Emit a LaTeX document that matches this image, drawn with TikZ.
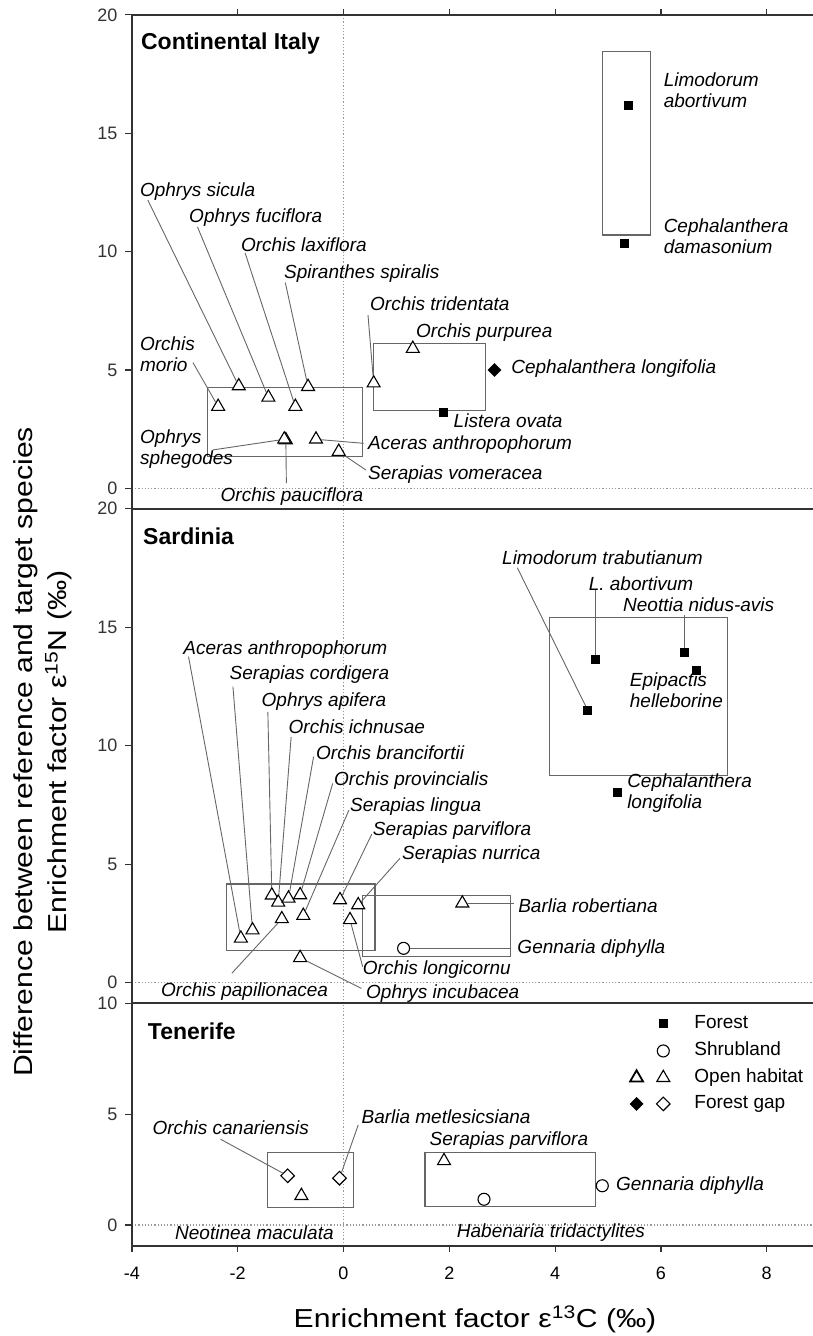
\documentclass[tikz,border=0pt]{standalone}
\usepackage{fontspec}
\setmainfont{Liberation Sans}
\usetikzlibrary{shapes.geometric}

\begin{document}
\begin{tikzpicture}[x=1pt, y=1pt,
    frame/.style={line width=1.8pt, black!80},
    tk/.style={line width=1.2pt, black!80},
    grp/.style={draw=black!60, line width=1.1pt},
    lead/.style={black!60, line width=0.9pt},
    zero/.style={black!40, line width=1.2pt, dotted},
    sp/.style={font=\fontsize{19}{21}\selectfont\itshape, anchor=west, inner sep=0pt, align=left, text height=13.5pt, text depth=4pt},
    ttl/.style={font=\fontsize{23}{25}\selectfont\bfseries, anchor=west, inner sep=0pt},
    tck/.style={font=\fontsize{18}{20}\selectfont, inner sep=0pt},
    axt/.style={font=\fontsize{26}{34}\selectfont, inner sep=0pt, align=center},
    leg/.style={font=\fontsize{19}{21}\selectfont, anchor=west, inner sep=0pt, text height=13.5pt, text depth=4pt},
    fo/.style={rectangle, fill=black, minimum size=9pt, inner sep=0pt},
    sh/.style={circle, draw=black, line width=1.1pt, fill=white, minimum size=12pt, inner sep=0pt},
    op/.style={regular polygon, regular polygon sides=3, draw=black, line width=1.1pt, fill=white, minimum size=15pt, inner sep=0pt},
    gp/.style={diamond, draw=black, line width=1.1pt, fill=white, minimum size=14pt, inner sep=0pt},
    gpf/.style={diamond, fill=black, minimum size=14pt, inner sep=0pt}]
\useasboundingbox (0,0) rectangle (813,1336);

\node[axt, rotate=90] (ylab) at (43,584)
    {\scalebox{1.16}[1]{Difference between reference and target species}\\
     \scalebox{1.16}[1]{Enrichment factor ε\textsuperscript{15}N (‰)}};
\node[axt] (xlab) at (475,17) {\scalebox{1.16}[1]{Enrichment factor ε\textsuperscript{13}C (‰)}};

\begin{scope}[shift={(343.5pt,847.7pt)}, x=52.9pt, y=23.67pt]
    \draw[zero] (-4,0) -- (8.9,0);
    \draw[zero] (0,-0.875) -- (0,20);
    \draw[frame] (-4,-0.875) -- (-4,20) -- (8.9,20);
    \foreach \v in {0,5,...,20}
        \draw[tk] (-4,\v) -- ++(-7pt,0) node[tck, anchor=east, xshift=-7pt] {\v};
    \foreach \u in {-2,0,...,8}
        \draw[tk] (\u,20) -- ++(0,6pt);
    \node[ttl] (ci) at (-3.83,18.80) {Continental Italy};

    \draw[grp] (4.89,10.70) rectangle (5.81,18.47);
    \draw[grp] (-2.57,1.335) rectangle (0.363,4.27);
    \draw[grp] (0.569,3.27) rectangle (2.684,6.10);

    \node[fo] (la) at (5.38,16.18) {};
    \node[fo] (cd) at (5.32,10.35) {};
    \node[gpf] (cl) at (2.854,5.0) {};
    \node[fo] (lo) at (1.885,3.22) {};
    \node[op] (om) at (-2.37,3.45) {};
    \node[op] (os) at (-1.98,4.32) {};
    \node[op] (of) at (-1.42,3.84) {};
    \node[op] (ol) at (-0.91,3.45) {};
    \node[op] (ss) at (-0.67,4.29) {};
    \node[op] (ot) at (0.57,4.44) {};
    \node[op] (pu) at (1.31,5.90) {};
    \node[op] (pa) at (-1.09,2.04) {};
    \node[op] (sg) at (-1.12,2.07) {};
    \node[op] (aa) at (-0.52,2.07) {};
    \node[op] (sv) at (-0.09,1.55) {};

    \node[sp] (tla) at (6.05,16.28) {Limodorum\\abortivum};
    \node[sp] (tcd) at (6.05,10.11) {Cephalanthera\\damasonium};
    \node[sp] (tos) at (-3.85,12.52) {Ophrys sicula};
    \node[sp] (tof) at (-2.92,11.42) {Ophrys fuciflora};
    \node[sp] (tol) at (-1.94,10.19) {Orchis laxiflora};
    \node[sp] (tss) at (-1.125,9.05) {Spiranthes spiralis};
    \node[sp] (tot) at (0.50,7.70) {Orchis tridentata};
    \node[sp] (tpu) at (1.37,6.56) {Orchis purpurea};
    \node[sp] (tom) at (-3.85,5.12) {Orchis\\morio};
    \node[sp] (tcl) at (3.17,5.04) {Cephalanthera longifolia};
    \node[sp] (tlo) at (2.08,2.77) {Listera ovata};
    \node[sp] (tsg) at (-3.85,1.22) {Ophrys\\sphegodes};
    \node[sp] (taa) at (0.463,1.83) {Aceras anthropophorum};
    \node[sp] (tsv) at (0.463,0.56) {Serapias vomeracea};
    \node[sp] (tpa) at (-2.325,-0.37) {Orchis pauciflora};

    \coordinate (c1) at (-2.845,5.31);
    \coordinate (c2) at (-3.70,12.18);
    \coordinate (c3) at (-2.76,11.04);
    \coordinate (c4) at (-1.86,9.94);
    \coordinate (c5) at (-1.10,8.69);
    \coordinate (c6) at (0.463,7.32);
    \coordinate (c7) at (-2.47,1.62);
    \coordinate (c8) at (-1.08,0.22);
    \coordinate (c9) at (0.38,1.90);
    \coordinate (c10) at (0.425,0.77);
    \draw[lead] (c1) -- (om);
    \draw[lead] (c2) -- (os);
    \draw[lead] (c3) -- (of);
    \draw[lead] (c4) -- (ol);
    \draw[lead] (c5) -- (ss);
    \draw[lead] (c6) -- (ot);
    \draw[lead] (c7) -- (sg);
    \draw[lead] (pa) -- (c8);
    \draw[lead] (aa) -- (c9);
    \draw[lead] (sv) -- (c10);
\end{scope}

\begin{scope}[shift={(343.5pt,353.3pt)}, x=52.9pt, y=23.7pt]
    \draw[zero] (-4,0) -- (8.9,0);
    \draw[zero] (0,-0.875) -- (0,20);
    \draw[frame] (-4,-0.875) -- (-4,20) -- (8.9,20);
    \foreach \v in {0,5,...,20}
        \draw[tk] (-4,\v) -- ++(-7pt,0) node[tck, anchor=east, xshift=-7pt] {\v};
    \node[ttl] (sa) at (-3.79,18.82) {Sardinia};

    \draw[grp] (3.90,8.76) rectangle (7.255,15.40);
    \draw[grp] (-2.214,1.35) rectangle (0.595,4.165);
    \draw[grp] (0.363,1.10) rectangle (3.157,3.67);

    \node[fo] (lab) at (4.76,13.62) {};
    \node[fo] (nna) at (6.44,13.92) {};
    \node[fo] (eph) at (6.67,13.16) {};
    \node[fo] (ltr) at (4.62,11.48) {};
    \node[fo] (cel) at (5.17,8.02) {};
    \node[op] (s1) at (-1.94,1.87) {};
    \node[op] (s2) at (-1.72,2.22) {};
    \node[op] (s3) at (-1.355,3.69) {};
    \node[op] (s4) at (-1.234,3.39) {};
    \node[op] (s5) at (-1.04,3.56) {};
    \node[op] (s6) at (-0.82,3.70) {};
    \node[op] (s7) at (-1.166,2.69) {};
    \node[op] (s8) at (-0.76,2.83) {};
    \node[op] (s9) at (-0.066,3.49) {};
    \node[op] (s10) at (0.278,3.28) {};
    \node[op] (s11) at (0.123,2.65) {};
    \node[op] (s12) at (2.246,3.35) {};
    \node[op] (s13) at (-0.82,1.05) {};
    \node[sh] (gd) at (1.136,1.45) {};

    \node[sp] (tltr) at (2.996,17.84) {Limodorum trabutianum};
    \node[sp] (tlab) at (4.633,16.76) {L. abortivum};
    \node[sp] (tnna) at (5.283,15.86) {Neottia nidus-avis};
    \node[sp] (teph) at (5.41,11.83) {Epipactis\\helleborine};
    \node[sp] (tcel) at (5.36,7.57) {Cephalanthera\\longifolia};
    \node[sp] (ts1) at (-3.03,14.03) {Aceras anthropophorum};
    \node[sp] (ts2) at (-2.155,12.98) {Serapias cordigera};
    \node[sp] (ts3) at (-1.55,11.86) {Ophrys apifera};
    \node[sp] (ts4) at (-1.04,10.73) {Orchis ichnusae};
    \node[sp] (ts5) at (-0.52,9.63) {Orchis brancifortii};
    \node[sp] (ts6) at (-0.18,8.52) {Orchis provincialis};
    \node[sp] (ts8) at (0.123,7.43) {Serapias lingua};
    \node[sp] (ts9) at (0.552,6.41) {Serapias parviflora};
    \node[sp] (ts10) at (1.106,5.39) {Serapias nurrica};
    \node[sp] (ts12) at (3.30,3.15) {Barlia robertiana};
    \node[sp] (tgd) at (3.285,1.45) {Gennaria diphylla};
    \node[sp] (ts11) at (0.363,0.54) {Orchis longicornu};
    \node[sp] (ts7) at (-3.45,-0.38) {Orchis papilionacea};
    \node[sp] (ts13) at (0.425,-0.48) {Ophrys incubacea};

    \coordinate (d1) at (3.285,17.51);
    \coordinate (d2) at (4.76,16.55);
    \coordinate (d3) at (6.44,15.50);
    \coordinate (d4) at (-2.93,13.76);
    \coordinate (d5) at (-2.09,12.49);
    \coordinate (d6) at (-1.43,11.43);
    \coordinate (d7) at (-0.99,10.36);
    \coordinate (d8) at (-0.565,9.54);
    \coordinate (d9) at (-0.204,8.41);
    \coordinate (d10) at (0.104,7.29);
    \coordinate (d11) at (0.535,6.27);
    \coordinate (d12) at (1.068,5.25);
    \coordinate (d13) at (3.216,3.35);
    \coordinate (d14) at (3.174,1.45);
    \coordinate (d15) at (0.363,0.675);
    \coordinate (d16) at (-2.11,0.40);
    \coordinate (d17) at (0.338,-0.24);
    \draw[lead] (d1) -- (ltr);
    \draw[lead] (d2) -- (lab);
    \draw[lead] (d3) -- (nna);
    \draw[lead] (d4) -- (s1);
    \draw[lead] (d5) -- (s2);
    \draw[lead] (d6) -- (s3);
    \draw[lead] (d7) -- (s4);
    \draw[lead] (d8) -- (s5);
    \draw[lead] (d9) -- (s6);
    \draw[lead] (d10) -- (s8);
    \draw[lead] (d11) -- (s9);
    \draw[lead] (d12) -- (s10);
    \draw[lead] (s12) -- (d13);
    \draw[lead] (gd) -- (d14);
    \draw[lead] (s11) -- (d15);
    \draw[lead] (d16) -- (s7);
    \draw[lead] (s13) -- (d17);
\end{scope}

\begin{scope}[shift={(343.5pt,111pt)}, x=52.9pt, y=22.17pt]
    \draw[zero] (-4,0) -- (8.9,0);
    \draw[zero] (0,-0.947) -- (0,10);
    \draw[frame] (8.9,-0.947) -- (-4,-0.947) -- (-4,10) -- (8.9,10);
    \foreach \v in {0,5,10}
        \draw[tk] (-4,\v) -- ++(-7pt,0) node[tck, anchor=east, xshift=-7pt] {\v};
    \foreach \u in {-4,-2,...,8} {
        \draw[tk] (\u,-0.947) -- ++(0,-6pt);
        \node[tck] at ([yshift=-27.3pt]\u,-0.947) {\u};
    }
    \node[ttl] (te) at (-3.70,8.72) {Tenerife};

    \draw[grp] (-1.44,0.78) rectangle (0.19,3.26);
    \draw[grp] (1.54,0.825) rectangle (4.76,3.26);

    \node[gp] (oc) at (-1.055,2.22) {};
    \node[gp] (bm) at (-0.076,2.11) {};
    \node[op] (nm) at (-0.796,1.32) {};
    \node[op] (spv) at (1.90,2.89) {};
    \node[sh] (ht) at (2.656,1.16) {};
    \node[sh] (gdt) at (4.892,1.77) {};

    \node[sp] (toc) at (-3.614,4.285) {Orchis canariensis};
    \node[sp] (tbm) at (0.338,4.81) {Barlia metlesicsiana};
    \node[sp] (tspv) at (1.626,3.80) {Serapias parviflora};
    \node[sp] (tgdt) at (5.15,1.77) {Gennaria diphylla};
    \node[sp] (tnm) at (-3.185,-0.42) {Neotinea maculata};
    \node[sp] (tht) at (2.14,-0.37) {Habenaria tridactylites};

    \coordinate (e1) at (-2.325,3.87);
    \coordinate (e2) at (0.278,4.51);
    \draw[lead] (e1) -- (oc);
    \draw[lead] (e2) -- (bm);

    \node[fo] (l1) at (6.045,9.07) {};
    \node[sh] (l2) at (6.045,7.85) {};
    \node[op, line width=1.8pt] (l3a) at (5.54,6.64) {};
    \node[op] (l3b) at (6.045,6.64) {};
    \node[gpf] (l4a) at (5.54,5.46) {};
    \node[gp] (l4b) at (6.045,5.46) {};
    \node[leg] (k1) at (6.63,9.07) {Forest};
    \node[leg] (k2) at (6.63,7.85) {Shrubland};
    \node[leg] (k3) at (6.63,6.64) {Open habitat};
    \node[leg] (k4) at (6.63,5.46) {Forest gap};
\end{scope}
\end{tikzpicture}
\end{document}
